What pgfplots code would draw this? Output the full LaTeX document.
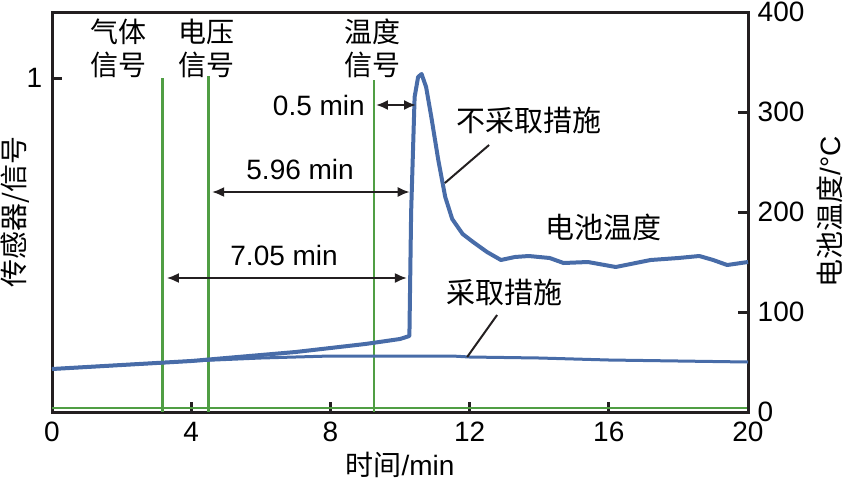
\documentclass[border=0pt]{standalone}
\usepackage{fontspec}
\setmainfont{Liberation Sans}
\newfontfamily\cjk{Noto Sans CJK SC}
\usepackage{pgfplots}
\pgfplotsset{compat=1.18}
\usetikzlibrary{arrows.meta}
\definecolor{tblue}{RGB}{72,108,168}
\definecolor{sgreen}{RGB}{80,158,68}
\definecolor{adark}{RGB}{35,31,32}

\pgfplotstableread{
x y
0 43
1 45
2 47
3 49
4 51
5 54
6 57
7 60
8 64
9 68
10 73
10.27 76
10.32 200
10.42 315
10.52 335
10.62 338
10.75 325
10.9 295
11.1 252
11.3 215
11.5 193
11.8 178
12.1 170
12.5 160
12.9 152
13.3 155
13.7 156
14.3 154
14.7 149
15.4 150
16.2 145
17.2 152
18.0 154
18.6 156
19.0 152
19.4 147
20 150
}\nomeasure

\pgfplotstableread{
x y
0 43
2 47
4 51
6 54
8 56
10 56
11.5 56
12 55
14 54
16 52
18 51
20 50
}\withmeasure

\begin{document}
\fontsize{14}{16.5}\selectfont
\begin{tikzpicture}
\pgfplotsset{
  base/.style={scale only axis, width=348pt, height=200pt, xmin=0, xmax=20,
    axis line style={adark, line width=1.5pt},
    major tick length=5pt, tick style={adark, line width=1.5pt},
    tick align=inside, /pgf/number format/assume math mode=true,
    ticklabel style={font=\fontsize{14}{16}\selectfont},
    label style={font=\fontsize{14}{16}\selectfont}},
}
\begin{axis}[base, ymin=0, ymax=1.1976, ytick={1}, xtick={0,4,...,20},
  xtick pos=bottom, ytick pos=left, clip=false,
  xlabel={{\cjk 时间}/min}, ylabel={\cjk 传感器/信号},
  xlabel style={at={(axis description cs:0.5,-0.1325)}, anchor=center},
  ylabel style={at={(axis description cs:-0.0532,0.5)}, anchor=center}]
  \addplot[sgreen, line width=1.2pt] coordinates {(0,0.012) (20,0.012)};
  \addplot[sgreen, line width=1.2pt] coordinates {(3.18,0) (3.18,1)};
  \addplot[sgreen, line width=1.8pt] coordinates {(4.5,0) (4.5,1.005)};
  \addplot[sgreen, line width=0.8pt] coordinates {(9.25,0) (9.25,0.995)};
\end{axis}
\begin{axis}[base, ymin=0, ymax=400, ytick={0,100,...,400},
  axis y line*=right, axis x line=none, clip=false,
  ylabel={{\cjk 电池温度}/°C},
  ylabel style={at={(axis description cs:1.118,0.5)}, anchor=center}]
  \addplot[tblue, line width=1.5pt] table[x=x,y=y] {\withmeasure};
  \addplot[tblue, line width=2pt, line join=round] table[x=x,y=y] {\nomeasure};
  % arrows
  \draw[adark, line width=1pt, {Latex[length=6pt,width=5pt]}-{Latex[length=6pt,width=5pt]}]
    (axis cs:9.31,307) -- (axis cs:10.46,307);
  \draw[adark, line width=1pt, {Latex[length=6pt,width=5pt]}-{Latex[length=6pt,width=5pt]}]
    (axis cs:4.6,220) -- (axis cs:10.28,220);
  \draw[adark, line width=1pt, {Latex[length=6pt,width=5pt]}-{Latex[length=6pt,width=5pt]}]
    (axis cs:3.3,134) -- (axis cs:10.2,134);
  \node[anchor=east, inner sep=0pt] at (axis cs:9.0,307) {0.5 min};
  \node at (axis cs:7.13,243) {5.96 min};
  \node at (axis cs:6.67,157) {7.05 min};
  % signal labels
  \node[align=center, font=\cjk\fontsize{14}{16.5}\selectfont] at (axis cs:1.9,364) {气体\\信号};
  \node[align=center, font=\cjk\fontsize{14}{16.5}\selectfont] at (axis cs:4.45,364) {电压\\信号};
  \node[align=center, font=\cjk\fontsize{14}{16.5}\selectfont] at (axis cs:9.2,364) {温度\\信号};
  % curve labels
  \node[font=\cjk\fontsize{14.5}{16}\selectfont] at (axis cs:13.7,292) {不采取措施};
  \draw[adark, line width=1pt] (axis cs:12.56,267) -- (axis cs:11.29,229);
  \node[font=\cjk\fontsize{14.5}{16}\selectfont] at (axis cs:15.86,185) {电池温度};
  \node[font=\cjk\fontsize{14.5}{16}\selectfont] at (axis cs:13.0,120) {采取措施};
  \draw[adark, line width=1pt] (axis cs:12.79,97) -- (axis cs:11.93,55);
\end{axis}
\pgfresetboundingbox
\path[use as bounding box] (-26pt,-33.5pt) rectangle (397pt,206pt);
\end{tikzpicture}
\end{document}
